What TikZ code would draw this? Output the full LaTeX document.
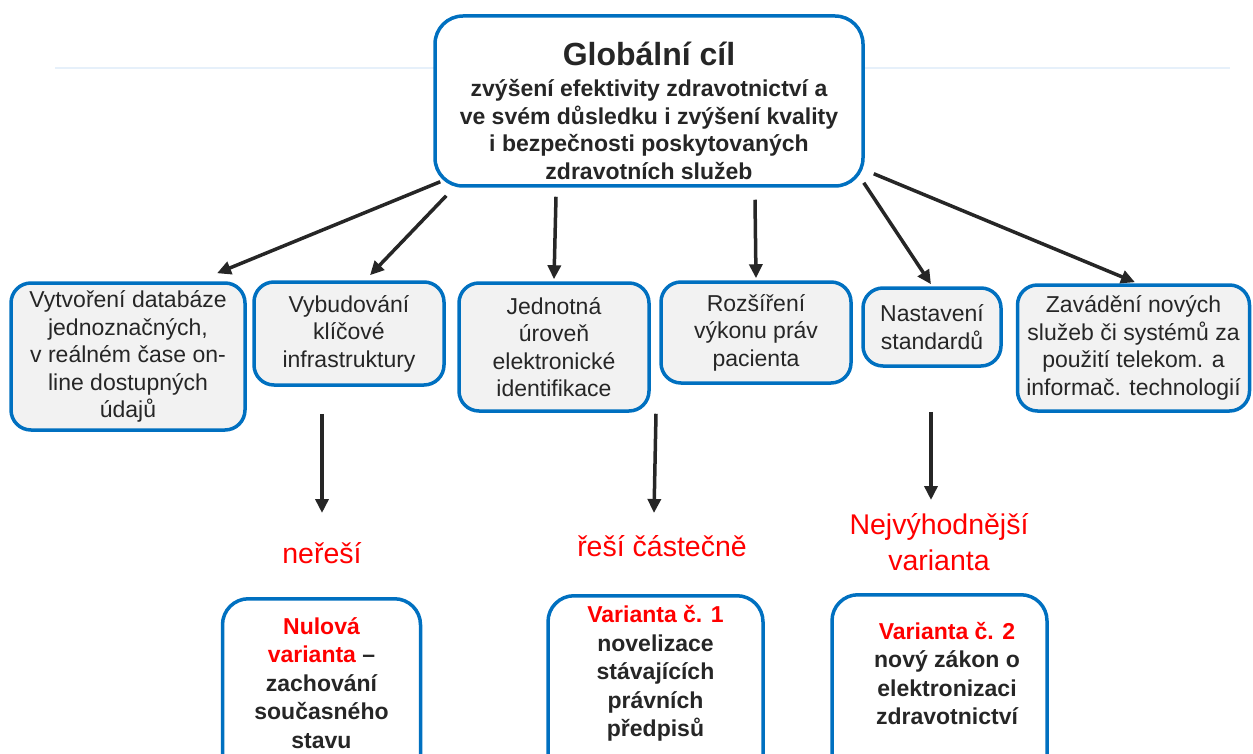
\documentclass[tikz,border=0pt]{standalone}
\usepackage{fontspec}
\setmainfont{Liberation Sans}
\usetikzlibrary{arrows.meta}
\definecolor{frameblue}{HTML}{0070C0}
\definecolor{boxgray}{HTML}{F2F2F2}
\definecolor{ink}{HTML}{262626}
\definecolor{verdictred}{HTML}{FF0000}
\definecolor{faintrule}{HTML}{E6F0FA}
\begin{document}
\begin{tikzpicture}[x=1pt,y=-1pt,
  box/.style={draw=frameblue, line width=3.5pt, rounded corners=20pt, inner sep=0pt},
  goalbox/.style={box, fill=white, rounded corners=28pt},
  goaltext/.style={align=center, text=ink, inner sep=0pt,
    font=\fontsize{23}{27.5}\selectfont\bfseries},
  rowbox/.style={box, fill=boxgray, text=ink, align=center,
    font=\fontsize{23}{27.5}\selectfont},
  botbox/.style={box, fill=white, rounded corners=26pt},
  bottext/.style={align=center, text=ink, inner sep=0pt,
    font=\fontsize{23}{28.5}\selectfont\bfseries},
  verdict/.style={text=verdictred, align=center, inner sep=0pt,
    font=\fontsize{28.5}{36}\selectfont},
  arr/.style={draw=ink, line width=3.5pt, -{Triangle[length=14pt,width=13pt]}},
]
\useasboundingbox (0,0) rectangle (1253,754);
\clip (0,0) rectangle (1253,754);

% thin header rule behind the goal box
\draw[faintrule, line width=1.5pt] (55,68) -- (1230,68);

% global goal
\node[goalbox, minimum width=428pt, minimum height=170pt] (top) at (649,101) {};
\node[goaltext] (toptext) at (649,111)
  {{\fontsize{32}{32}\selectfont Globální cíl}\\[3.5pt]
   zvýšení efektivity zdravotnictví a\\
   ve svém důsledku i zvýšení kvality\\
   i bezpečnosti poskytovaných\\
   zdravotních služeb};

% partial objectives
\node[rowbox, minimum width=234pt, minimum height=147pt] (r1) at (128,356.5)
  {Vytvoření databáze\\ jednoznačných,\\ v reálném čase on-\\ line dostupných\\ údajů};
\node[rowbox, minimum width=190pt, minimum height=103pt] (r2) at (349,333.5)
  {Vybudování\\ klíčové\\ infrastruktury};
\node[rowbox, minimum width=190pt, minimum height=128pt] (r3) at (554,347)
  {Jednotná\\ úroveň\\ elektronické\\ identifikace};
\node[rowbox, minimum width=190pt, minimum height=101pt] (r4) at (756,332.5)
  {Rozšíření\\ výkonu práv\\ pacienta};
\node[rowbox, minimum width=138pt, minimum height=78pt] (r5) at (932,327)
  {Nastavení\\ standardů};
\node[rowbox, minimum width=232pt, minimum height=126pt] (r6) at (1133.5,348)
  {Zavádění nových\\ služeb či systémů za\\ použití telekom. a\\ informač. technologií};

% arrows from the goal to the objectives
\draw[arr] ([xshift=7pt,yshift=6pt]top.south west) -- ([xshift=89pt,yshift=8pt]r1.north);
\draw[arr] ([xshift=13pt,yshift=-8pt]top.south west) -- ([xshift=21pt,yshift=5pt]r2.north);
\draw[arr] ([xshift=-93pt,yshift=-9pt]top.south) -- ([yshift=2pt]r3.north);
\draw[arr] ([xshift=106pt,yshift=-12pt]top.south) -- ([yshift=2pt]r4.north);
\draw[arr] ([xshift=-1pt,yshift=5pt]top.south east) -- ([xshift=-1pt,yshift=2pt]r5.north);
\draw[arr] ([xshift=9pt,yshift=14pt]top.south east) -- ([xshift=1.5pt,yshift=1pt]r6.north);

% assessment of the variants
\node[verdict] (neresi) at (322,553.6) {neřeší};
\node[verdict] (castecne) at (662,546.6) {řeší částečně};
\node[verdict] (nejv) at (939,542.5) {Nejvýhodnější\\ varianta};

\draw[arr] ([xshift=-27pt,yshift=-27pt]r2.south) -- ([yshift=40.6pt]neresi.center);
\draw[arr] ([xshift=102pt,yshift=-1pt]r3.south) -- ([xshift=-8pt,yshift=33.6pt]castecne.center);
\draw[arr] ([xshift=-1pt,yshift=-44pt]r5.south) -- ([xshift=-8pt,yshift=42.5pt]nejv.center);

% variants
\node[botbox, minimum width=198pt, minimum height=203pt] (b1) at (321.5,700.25) {};
\node[botbox, minimum width=215pt, minimum height=203pt] (b2) at (655.5,697.25) {};
\node[botbox, minimum width=215pt, minimum height=203pt] (b3) at (939.5,696.25) {};

\node[bottext] (b1text) at (321.5,683)
  {\textcolor{verdictred}{Nulová}\\ \textcolor{verdictred}{varianta} –\\ zachování\\ současného\\ stavu};
\node[bottext] (b2text) at (655.5,673.5)
  {\textcolor{verdictred}{Varianta č. 1}\\ novelizace\\ stávajících\\ právních\\ předpisů};
\node[bottext] (b3text) at (947,673.5)
  {\textcolor{verdictred}{Varianta č. 2}\\ nový zákon o\\ elektronizaci\\ zdravotnictví};
\end{tikzpicture}
\end{document}
